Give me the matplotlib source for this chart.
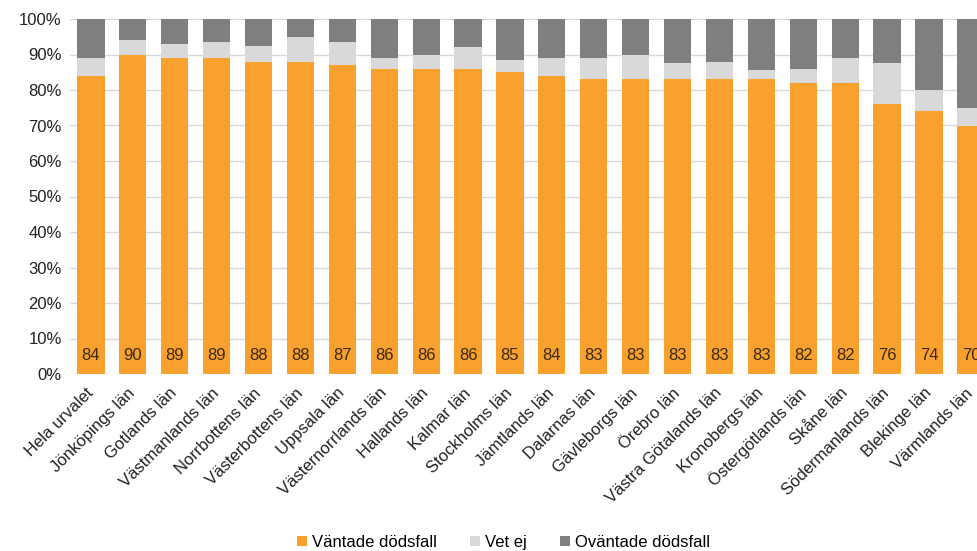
import numpy as np
import matplotlib.pyplot as plt
from matplotlib.ticker import PercentFormatter

plt.rcParams['font.family'] = ['Liberation Sans', 'DejaVu Sans']

regions = ["Hela urvalet", "Jönköpings län", "Gotlands län", "Västmanlands län",
           "Norrbottens län", "Västerbottens län", "Uppsala län", "Västernorrlands län",
           "Hallands län", "Kalmar län", "Stockholms län", "Jämtlands län",
           "Dalarnas län", "Gävleborgs län", "Örebro län", "Västra Götalands län",
           "Kronobergs län", "Östergötlands län", "Skåne län", "Södermanlands län",
           "Blekinge län", "Värmlands län"]
expected = [84, 90, 89, 89, 88, 88, 87, 86, 86, 86, 85, 84, 83, 83, 83, 83, 83, 82, 82, 76, 74, 70]
dont_know = [5, 4, 4, 4.5, 4.5, 7, 6.5, 3, 4, 6, 3.5, 5, 6, 7, 4.6, 5, 2.5, 4, 7, 11.6, 6, 5]
unexpected = [100 - e - d for e, d in zip(expected, dont_know)]

c_exp = "#F9A12E"
c_dk = "#D9D9D9"
c_unexp = "#7F7F7F"

fig = plt.figure(figsize=(9.78, 5.51), dpi=100)
ax = fig.add_axes([70/978, (551-374)/551, (978-70)/978, 355/551])

x = np.arange(len(regions))
w = 0.65
ax.bar(x, expected, w, color=c_exp, label="Väntade dödsfall", zorder=3)
ax.bar(x, dont_know, w, bottom=expected, color=c_dk, label="Vet ej", zorder=3)
ax.bar(x, unexpected, w, bottom=np.array(expected) + np.array(dont_know),
       color=c_unexp, label="Oväntade dödsfall", zorder=3)

for xi, v in zip(x, expected):
    ax.text(xi, 5.2, f"{v}", ha="center", va="center", fontsize=12,
            color="#3a2a10", zorder=4)

ax.set_xlim(-0.5, 21.17)
ax.set_ylim(0, 100)
ax.set_yticks(np.arange(0, 101, 10))
ax.yaxis.set_major_formatter(PercentFormatter(decimals=0))
ax.set_xticks(x)
ax.set_xticklabels(regions, rotation=45, ha="right", va="center", rotation_mode="anchor")
ax.tick_params(axis="both", length=0, labelsize=12, colors="#222222")
ax.tick_params(axis="x", pad=12)
ax.tick_params(axis="y", pad=6)
ax.yaxis.grid(True, color="#D9D9D9", linewidth=1)
ax.set_axisbelow(True)
for s in ax.spines.values():
    s.set_visible(False)

fig.legend(loc="lower center", bbox_to_anchor=(0.515, -0.025), ncol=3, frameon=False,
           fontsize=12, handlelength=0.6, handleheight=0.6, handletextpad=0.3,
           columnspacing=2.0)

fig.savefig("out.png", dpi=100)
